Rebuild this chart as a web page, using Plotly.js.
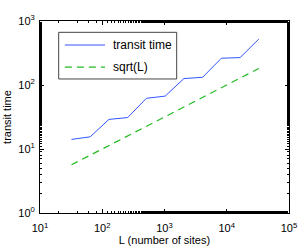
<!DOCTYPE html>
<html><head><meta charset="utf-8">
<script src="https://cdn.plot.ly/plotly-3.0.1.min.js"></script>
<style>html,body{margin:0;padding:0;background:#fff}</style>
</head><body><div id="c" style="width:300px;height:250px"></div>
<script>
const L = [32, 64, 128, 256, 512, 1024, 2048, 4096, 8192, 16384, 32768];
const transitTime = [14.1, 15.5, 29, 31, 62, 67, 126, 132, 262, 268, 523];
const sqrtL = [5.66, 8, 11.3, 16, 22.6, 32, 45.3, 64, 90.5, 128, 181];
const seriesNames = ['transit time', 'sqrt(L)'];
const xTickVals = [10, 100, 1000, 10000, 100000];
const xTickText = ['10<sup>1</sup>', '10<sup>2</sup>', '10<sup>3</sup>', '10<sup>4</sup>', '10<sup>5</sup>'];
const yTickVals = [1, 10, 100, 1000];
const yTickText = ['10<sup>0</sup>', '10<sup>1</sup>', '10<sup>2</sup>', '10<sup>3</sup>'];

const colors = ['#3355ff', '#22bb22'];
const dashes = ['solid', '7px,5px'];
const font = {family: 'Liberation Sans, Arial, sans-serif', size: 11, color: '#000'};
const axisCommon = {
  type: 'log', showline: true, linecolor: '#000', linewidth: 1, mirror: 'ticks',
  ticks: 'inside', ticklen: 4, tickcolor: '#000', showgrid: false, zeroline: false,
  tickmode: 'array', tickfont: font,
  minor: {ticks: 'inside', ticklen: 2, tickcolor: '#000', showgrid: false}
};

// legend drawn manually (box, sample lines, labels) in paper coordinates
const legBox = {x0: 0.075, x1: 0.549, y0: 0.698, y1: 0.941};
const legRows = [0.875, 0.760];
const shapes = [{type: 'rect', xref: 'paper', yref: 'paper', x0: legBox.x0, x1: legBox.x1, y0: legBox.y0, y1: legBox.y1,
  line: {color: '#444', width: 1}, fillcolor: '#fff', layer: 'above'}];
const annotations = [];
seriesNames.forEach((n, i) => {
  shapes.push({type: 'line', xref: 'paper', yref: 'paper', x0: 0.1, x1: 0.261, y0: legRows[i], y1: legRows[i],
    line: {color: colors[i], width: i ? 1.2 : 1, dash: dashes[i]}, layer: 'above'});
  annotations.push({xref: 'paper', yref: 'paper', x: 0.287, y: legRows[i], xanchor: 'left', yanchor: 'middle',
    text: n, showarrow: false, font: {family: font.family, size: 12, color: '#000'}});
});

Plotly.newPlot('c', [
  {x: L, y: transitTime, name: seriesNames[0], mode: 'lines', line: {color: colors[0], width: 1}},
  {x: L, y: sqrtL, name: seriesNames[1], mode: 'lines', line: {color: colors[1], width: 1.2, dash: dashes[1]}}
], {
  width: 300, height: 250, paper_bgcolor: '#fff', plot_bgcolor: '#fff',
  margin: {l: 40, r: 11, t: 21, b: 37},
  font: font, showlegend: false, shapes: shapes, annotations: annotations,
  xaxis: Object.assign({}, axisCommon, {range: [1, 5], tickvals: xTickVals, ticktext: xTickText, ticklabelstandoff: 5,
    title: {text: 'L (number of sites)', font: font, standoff: 2}}),
  yaxis: Object.assign({}, axisCommon, {range: [0, 3], tickvals: yTickVals, ticktext: yTickText, ticklabelstandoff: 2,
    title: {text: 'transit time', font: font, standoff: 4}})
}, {staticPlot: true});
</script></body></html>
